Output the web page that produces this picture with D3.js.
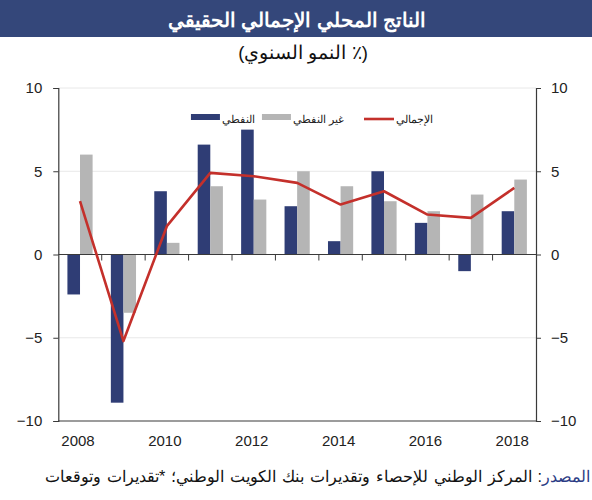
<!DOCTYPE html>
<html>
<head>
<meta charset="utf-8">
<script src="https://cdn.jsdelivr.net/npm/d3@7"></script>
<style>
  body { margin: 0; background: #fff; }
  svg { display: block; font-family: "Liberation Sans", Arial, sans-serif; }
</style>
</head>
<body>
<svg class="chart" width="592" height="500"></svg>
<script>
var years = [2008, 2009, 2010, 2011, 2012, 2013, 2014, 2015, 2016, 2017, 2018];
var oil = [-2.4, -8.9, 3.8, 6.6, 7.5, 2.9, 0.8, 5.0, 1.9, -1.0, 2.6];
var nonOil = [6.0, -3.5, 0.7, 4.1, 3.3, 5.0, 4.1, 3.2, 2.6, 3.6, 4.5];
var total = [3.2, -5.2, 1.7, 4.9, 4.7, 4.3, 3.0, 3.8, 2.4, 2.2, 4.0];
var yTicks = [-10, -5, 0, 5, 10];
var xLabels = [2008, 2010, 2012, 2014, 2016, 2018];

var title = 'الناتج المحلي الإجمالي الحقيقي';
var subtitle = '(' + '٪ ' + 'النمو السنوي' + ')';
var legendNames = ['الإجمالي', 'غير النفطي', 'النفطي'];
var sourceLabel = 'المصدر';
var sourceText = ': المركز الوطني للإحصاء وتقديرات بنك الكويت الوطني؛ *تقديرات وتوقعات';

var colors = {oil: '#2f3d75', nonOil: '#b5b5b5', total: '#c4302b', banner: '#34477a'};

var svg = d3.select('.chart');

var margins = {left: 58.3, right: 56, top: 88, bottom: 79};
var width = 592 - margins.left - margins.right;
var height = 500 - margins.top - margins.bottom;

// header
svg.append('rect').attr('x', 0).attr('y', 0).attr('width', 592).attr('height', 37)
   .attr('fill', colors.banner);
svg.append('text').attr('x', 297).attr('y', 27).attr('text-anchor', 'middle')
   .attr('direction', 'rtl').attr('fill', '#fff').attr('font-size', 20).attr('font-weight', 'bold')
   .text(title);
svg.append('text').attr('x', 303).attr('y', 59).attr('text-anchor', 'middle')
   .attr('direction', 'rtl').attr('fill', '#111').attr('font-size', 18.5)
   .text(subtitle);

var g = svg.append('g').attr('transform', 'translate(' + margins.left + ',' + margins.top + ')');

var xScale = d3.scaleBand().domain(years).range([0, width]).padding(0);
var yScale = d3.scaleLinear().domain([-10, 10]).range([height, 0]);
var barW = xScale.bandwidth() * 0.29;

// gridlines
g.selectAll('.grid').data([5, 10, -5]).enter().append('line')
 .attr('x1', 0).attr('x2', width)
 .attr('y1', function(d){ return yScale(d); })
 .attr('y2', function(d){ return yScale(d); })
 .attr('stroke', '#e8e8e8').attr('stroke-width', 1);

// bars
g.selectAll('.oil').data(oil).enter().append('rect')
 .attr('x', function(d, i){ return xScale(years[i]) + xScale.bandwidth() / 2 - barW; })
 .attr('y', function(d){ return yScale(Math.max(0, d)); })
 .attr('width', barW)
 .attr('height', function(d){ return Math.abs(yScale(d) - yScale(0)); })
 .attr('fill', colors.oil);

g.selectAll('.nonoil').data(nonOil).enter().append('rect')
 .attr('x', function(d, i){ return xScale(years[i]) + xScale.bandwidth() / 2; })
 .attr('y', function(d){ return yScale(Math.max(0, d)); })
 .attr('width', barW)
 .attr('height', function(d){ return Math.abs(yScale(d) - yScale(0)); })
 .attr('fill', colors.nonOil);

// zero line with ticks at category boundaries
var axisColor = '#3a3a3a';
g.append('line').attr('x1', 0).attr('x2', width)
 .attr('y1', yScale(0)).attr('y2', yScale(0))
 .attr('stroke', axisColor).attr('stroke-width', 1.2);
g.selectAll('.ztick').data(years.slice(1)).enter().append('line')
 .attr('x1', function(d){ return xScale(d); })
 .attr('x2', function(d){ return xScale(d); })
 .attr('y1', yScale(0)).attr('y2', yScale(0) + 6)
 .attr('stroke', axisColor).attr('stroke-width', 1);

// bottom line
g.append('line').attr('x1', 0).attr('x2', width)
 .attr('y1', height).attr('y2', height)
 .attr('stroke', axisColor).attr('stroke-width', 1.2);

// total line
var linemake = d3.line()
  .x(function(d, i){ return xScale(years[i]) + xScale.bandwidth() / 2; })
  .y(function(d){ return yScale(d); });
g.append('path').datum(total).attr('d', linemake)
 .attr('fill', 'none').attr('stroke', colors.total).attr('stroke-width', 2.6)
 .attr('stroke-linejoin', 'round');

// y axes
var yAxisL = d3.axisLeft(yScale).tickValues(yTicks).tickSize(5).tickPadding(11);
var yAxisR = d3.axisRight(yScale).tickValues(yTicks).tickSize(5).tickPadding(10);
[g.append('g').call(yAxisL), g.append('g').attr('transform', 'translate(' + width + ',0)').call(yAxisR)]
  .forEach(function(ax){
    ax.select('.domain').attr('stroke', axisColor).attr('stroke-width', 1.2);
    ax.selectAll('.tick line').attr('stroke', axisColor);
    ax.selectAll('.tick text').attr('font-size', 15).attr('fill', '#222')
      .attr('font-family', '"Liberation Sans", Arial, sans-serif');
  });

// x labels
g.selectAll('.xlab').data(xLabels).enter().append('text')
 .attr('x', function(d){ return xScale(d) + xScale.bandwidth() / 2 - 2; })
 .attr('y', height + 25)
 .attr('text-anchor', 'middle').attr('font-size', 15).attr('fill', '#222')
 .text(function(d){ return d; });

// legend, laid out right to left (rtl: text-anchor start = right edge)
var legend = svg.append('g').attr('font-size', 11).attr('fill', '#222');
var legendItems = [
  {name: legendNames[0], kind: 'line', color: colors.total, sw: 30, gap: 20},
  {name: legendNames[1], kind: 'rect', color: colors.nonOil, sw: 29, gap: 7},
  {name: legendNames[2], kind: 'rect', color: colors.oil, sw: 29, gap: 0}
];
var right = 433;
legendItems.forEach(function(it){
  var t = legend.append('text').attr('x', right).attr('y', 123)
    .attr('text-anchor', 'start').attr('direction', 'rtl').text(it.name);
  var w = t.node().getComputedTextLength();
  var sx = right - w - it.sw - 2;
  if (it.kind === 'line') {
    legend.append('line').attr('x1', sx).attr('x2', sx + it.sw).attr('y1', 119).attr('y2', 119)
      .attr('stroke', it.color).attr('stroke-width', 2.6);
  } else {
    legend.append('rect').attr('x', sx).attr('y', 114).attr('width', it.sw).attr('height', 6)
      .attr('fill', it.color);
  }
  right = sx - it.gap;
});

// source
var src = svg.append('text').attr('x', 590).attr('y', 482).attr('text-anchor', 'start')
  .attr('direction', 'rtl').attr('font-size', 16.2).attr('word-spacing', 1.4).attr('fill', '#111');
src.append('tspan').attr('fill', '#2b3c85').text(sourceLabel);
src.append('tspan').text(sourceText);
</script>
</body>
</html>
